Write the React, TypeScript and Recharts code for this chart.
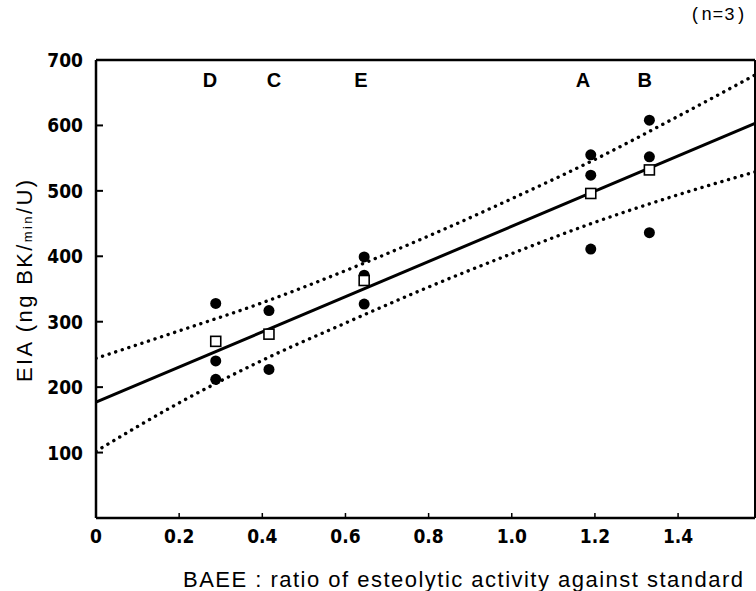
import { ComposedChart, Line, Scatter, XAxis, YAxis, ReferenceLine } from 'recharts';

// group letters placed above each cluster
const groupLabels = [
  { x: 0.274, y: 669, name: 'D' },
  { x: 0.428, y: 669, name: 'C' },
  { x: 0.637, y: 669, name: 'E' },
  { x: 1.171, y: 669, name: 'A' },
  { x: 1.32, y: 669, name: 'B' },
];

// individual measurements (filled circles)
const measured = [
  { x: 0.288, y: 328 }, { x: 0.288, y: 240 }, { x: 0.288, y: 212 },
  { x: 0.416, y: 317 }, { x: 0.416, y: 227 },
  { x: 0.645, y: 399 }, { x: 0.645, y: 371 }, { x: 0.645, y: 327 },
  { x: 1.19, y: 555 }, { x: 1.19, y: 524 }, { x: 1.19, y: 411 },
  { x: 1.331, y: 608 }, { x: 1.331, y: 552 }, { x: 1.331, y: 436 },
];

// group means (open squares)
const means = [
  { x: 0.288, y: 270 },
  { x: 0.416, y: 281 },
  { x: 0.645, y: 363 },
  { x: 1.19, y: 496 },
  { x: 1.331, y: 532 },
];

const regression = [{ x: 0, y: 177 }, { x: 1.585, y: 603 }];

const bandX = [0, 0.2, 0.4, 0.6, 0.8, 1.0, 1.2, 1.4, 1.585];
const upperY = [244, 286, 329, 378, 431, 488, 548, 614, 677];
const lowerY = [102, 176, 241, 298, 353, 404, 452, 494, 529];
const upperBand = bandX.map((x, i) => ({ x, y: upperY[i] }));
const lowerBand = bandX.map((x, i) => ({ x, y: lowerY[i] }));

const xTicks = [0, 0.2, 0.4, 0.6, 0.8, 1.0, 1.2, 1.4];
const yTicks = [100, 200, 300, 400, 500, 600, 700];

const tickFont = "'DejaVu Sans Condensed', 'Liberation Sans Narrow', 'DejaVu Sans', sans-serif";
const textFont = "'Liberation Sans', Arial, sans-serif";

const YTick = (props: any) => {
  const { x, y, payload } = props;
  return (
    <g>
      {payload.value !== 700 && <line x1={x} y1={y} x2={x + 7} y2={y} stroke="#000" strokeWidth={2} />}
      <text x={x - 13} y={y} textAnchor="end" dominantBaseline="central" fontFamily={tickFont} fontWeight="bold" fontSize={19} fill="#000">
        {payload.value}
      </text>
    </g>
  );
};

const XTick = (props: any) => {
  const { x, y, payload } = props;
  const v = payload.value;
  return (
    <g>
      {v !== 0 && <line x1={x} y1={y} x2={x} y2={y - 5} stroke="#000" strokeWidth={1.5} />}
      <text x={x} y={y + 18} textAnchor="middle" dominantBaseline="central" fontFamily={tickFont} fontWeight="bold" fontSize={19} fill="#000">
        {v === 0 ? '0' : v.toFixed(1)}
      </text>
    </g>
  );
};

export default function App() {
  return (
    <div style={{ position: 'absolute', left: 0, top: 0, width: 756, height: 591, background: '#fff' }}>
      <div style={{ position: 'absolute', left: 690, top: 5, fontFamily: "'Liberation Mono', monospace", fontSize: 18, letterSpacing: 0.5 }}>
        (n=3)
      </div>
      <ComposedChart width={756} height={591} margin={{ top: 60, right: 1, bottom: 0, left: 0 }}>
        <XAxis
          dataKey="x"
          type="number"
          domain={[0, 1.585]}
          ticks={xTicks}
          allowDataOverflow
          height={73}
          tickSize={0}
          tickMargin={0}
          tick={<XTick />}
          axisLine={{ stroke: '#000', strokeWidth: 2.5 }}
          tickLine={false}
        />
        <YAxis
          type="number"
          domain={[0, 700]}
          ticks={yTicks}
          allowDataOverflow
          width={96}
          tickSize={0}
          tickMargin={0}
          tick={<YTick />}
          axisLine={{ stroke: '#000', strokeWidth: 2.5 }}
          tickLine={false}
        />
        <ReferenceLine y={700} stroke="#000" strokeWidth={2.5} />
        <ReferenceLine x={1.585} stroke="#000" strokeWidth={2} />
        <Line data={upperBand} dataKey="y" type="monotone" stroke="#000" strokeWidth={3.4} strokeDasharray="0.1 6.8" strokeLinecap="round" dot={false} isAnimationActive={false} />
        <Line data={lowerBand} dataKey="y" type="monotone" stroke="#000" strokeWidth={3.4} strokeDasharray="0.1 6.8" strokeLinecap="round" dot={false} isAnimationActive={false} />
        <Line data={regression} dataKey="y" type="linear" stroke="#000" strokeWidth={3} dot={false} isAnimationActive={false} />
        <Scatter
          data={measured}
          dataKey="y"
          isAnimationActive={false}
          shape={(p: any) => <circle cx={p.cx} cy={p.cy} r={5.5} fill="#000" />}
        />
        <Scatter
          data={means}
          dataKey="y"
          isAnimationActive={false}
          shape={(p: any) => <rect x={p.cx - 5} y={p.cy - 5} width={10} height={10} fill="#fff" stroke="#000" strokeWidth={1.6} />}
        />
        <Scatter
          data={groupLabels}
          dataKey="y"
          isAnimationActive={false}
          shape={(p: any) => (
            <text x={p.cx} y={p.cy} textAnchor="middle" dominantBaseline="central" fontFamily={textFont} fontWeight="bold" fontSize={20} fill="#000">
              {p.payload.name}
            </text>
          )}
        />
      </ComposedChart>
      <svg width={756} height={591} style={{ position: 'absolute', left: 0, top: 0, pointerEvents: 'none' }}>
        <text transform="translate(32,281) rotate(-90)" textAnchor="middle" textLength={202} lengthAdjust="spacing" fontFamily={textFont} fontSize={22} fill="#000">
          EIA (ng BK/<tspan fontSize={13}>min</tspan>/U)
        </text>
        <text x={183} y={587} textLength={560} lengthAdjust="spacing" fontFamily={textFont} fontSize={22} fill="#000">
          BAEE : ratio of esteolytic activity against standard
        </text>
      </svg>
    </div>
  );
}
